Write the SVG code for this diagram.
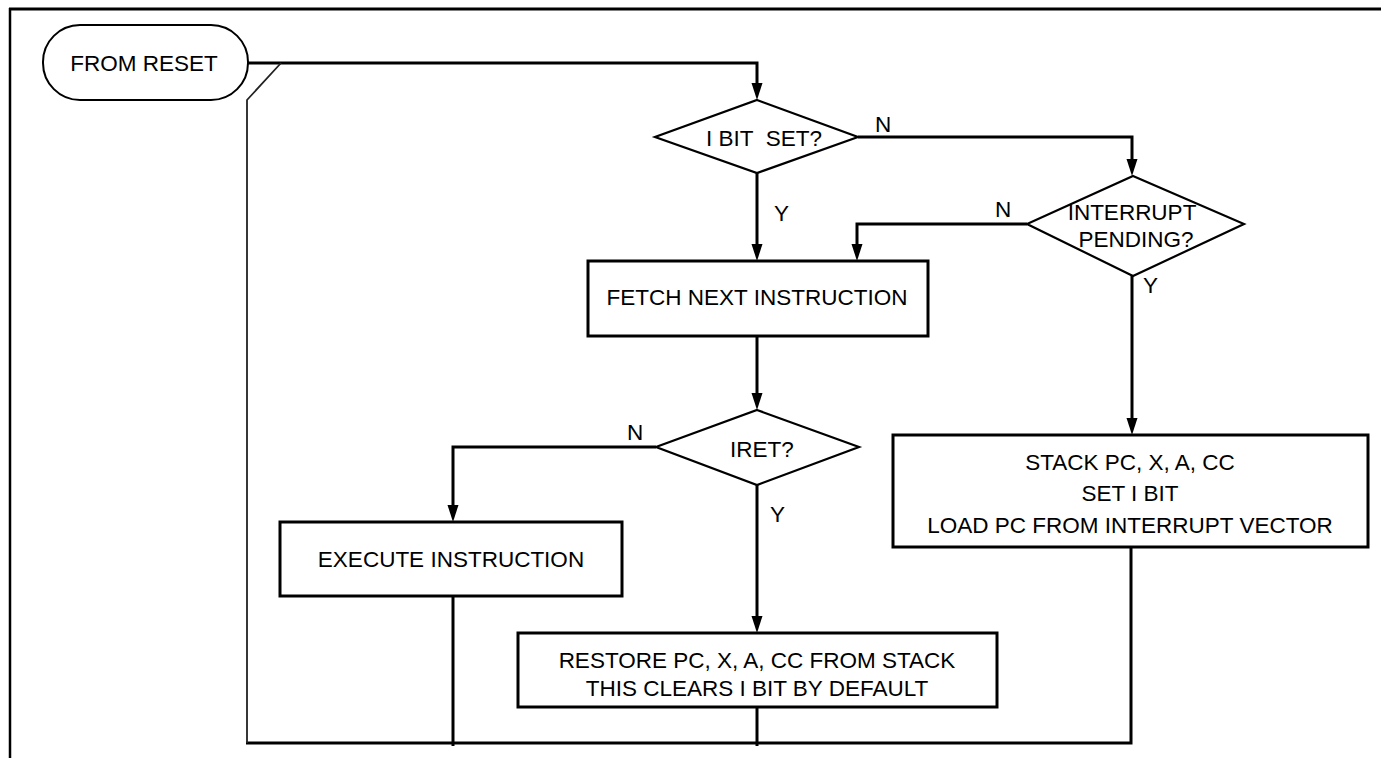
<svg xmlns="http://www.w3.org/2000/svg" width="1381" height="758" viewBox="0 0 1381 758">
<defs>
<style>
.box{fill:#fff;stroke:#000;stroke-width:3}
.dia{fill:#fff;stroke:#000;stroke-width:2.2}
.term{fill:#fff;stroke:#000;stroke-width:2}
.t{font-family:"Liberation Sans",Arial,sans-serif;font-size:22.5px;fill:#000;text-anchor:middle;white-space:pre}
.lbl{font-family:"Liberation Sans",Arial,sans-serif;font-size:22.5px;fill:#000;text-anchor:start}
.c{fill:none;stroke:#000;stroke-width:3}
.thin{fill:none;stroke:#222;stroke-width:1.8}
.frame{fill:none;stroke:#000}
</style>
<marker id="arr" markerUnits="userSpaceOnUse" markerWidth="20" markerHeight="12" refX="9" refY="5.5" orient="auto">
<path d="M0,0 L17,5.5 L0,11 z" fill="#000"/>
</marker>
</defs>
<rect x="0" y="0" width="1381" height="758" fill="#fff"/>
<g id="frame">
<line class="frame" x1="9" y1="9" x2="1381" y2="9" stroke-width="3"/>
<line class="frame" x1="10" y1="8" x2="10" y2="758" stroke-width="2.5"/>
</g>
<g id="connectors">
<path class="c" d="M248,63 H757 V92" marker-end="url(#arr)"/>
<path class="c" d="M757,173 V253" marker-end="url(#arr)"/>
<path class="c" d="M858,137 H1132 V168" marker-end="url(#arr)"/>
<path class="c" d="M1027,224 H857 V253" marker-end="url(#arr)"/>
<path class="c" d="M1132,276 V427" marker-end="url(#arr)"/>
<path class="c" d="M757,336 V402" marker-end="url(#arr)"/>
<path class="c" d="M656,447 H453 V514" marker-end="url(#arr)"/>
<path class="c" d="M757,485 V625" marker-end="url(#arr)"/>
<path class="c" d="M453,596 V746"/>
<path class="c" d="M757,707 V746"/>
<path class="c" d="M1131,547 V743 H246"/>
<path class="thin" d="M247,743 V100 L281,63"/>
</g>
<g id="from-reset">
<rect class="term" x="43" y="25" width="205" height="75" rx="37" ry="37"/>
<text class="t" x="144" y="71">FROM RESET</text>
</g>
<g id="ibit-set">
<polygon class="dia" points="757,100 858,137 757,173 655,137"/>
<text class="t" x="764" y="146">I BIT  SET?</text>
<text class="lbl" x="875" y="132">N</text>
<text class="lbl" x="774" y="221">Y</text>
</g>
<g id="interrupt-pending">
<polygon class="dia" points="1133,176 1244,224 1133,276 1027,224"/>
<text class="t" x="1132" y="220">INTERRUPT</text>
<text class="t" x="1136" y="247">PENDING?</text>
<text class="lbl" x="995" y="217">N</text>
<text class="lbl" x="1143" y="293">Y</text>
</g>
<g id="fetch">
<rect class="box" x="588" y="261" width="340" height="75"/>
<text class="t" x="757" y="305">FETCH NEXT INSTRUCTION</text>
</g>
<g id="iret">
<polygon class="dia" points="757,410 859,447 757,485 656,447"/>
<text class="t" x="762" y="457">IRET?</text>
<text class="lbl" x="627" y="440">N</text>
<text class="lbl" x="770" y="522">Y</text>
</g>
<g id="execute">
<rect class="box" x="280" y="522" width="342" height="74"/>
<text class="t" x="451" y="567">EXECUTE INSTRUCTION</text>
</g>
<g id="restore">
<rect class="box" x="518" y="633" width="479" height="74"/>
<text class="t" x="757" y="668">RESTORE PC, X, A, CC FROM STACK</text>
<text class="t" x="757" y="696">THIS CLEARS I BIT BY DEFAULT</text>
</g>
<g id="stack">
<rect class="box" x="893" y="435" width="475" height="112"/>
<text class="t" x="1130" y="470">STACK PC, X, A, CC</text>
<text class="t" x="1130" y="501">SET I BIT</text>
<text class="t" x="1130" y="533">LOAD PC FROM INTERRUPT VECTOR</text>
</g>
</svg>
